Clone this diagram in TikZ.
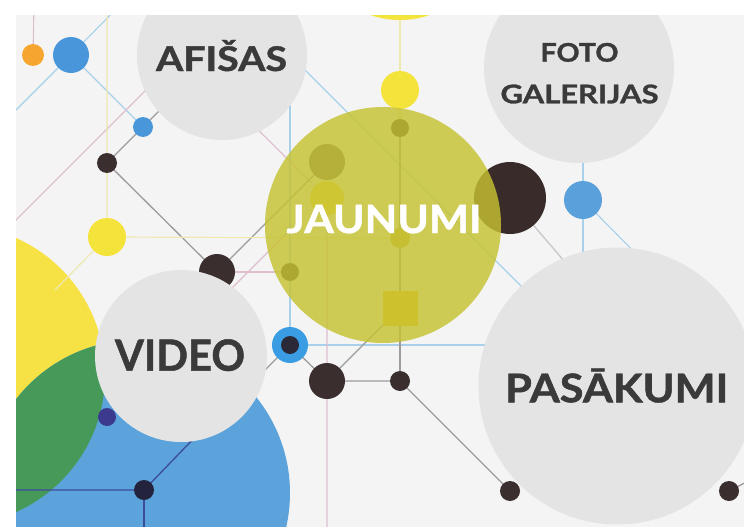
\documentclass[tikz,border=0pt]{standalone}
\usepackage{fontspec}
\setmainfont{Lato}[BoldFeatures={FakeBold=1.2}]
\usepackage{graphicx}
\definecolor{bgc}{HTML}{F4F4F4}
\definecolor{bubc}{HTML}{E4E4E4}
\definecolor{txtc}{HTML}{3A3A3A}
\definecolor{darkc}{HTML}{3B2E2E}
\definecolor{darkbigc}{HTML}{3A2B2B}
\definecolor{orangec}{HTML}{F7A531}
\definecolor{bluedot}{HTML}{4A96DA}
\definecolor{bluedotb}{HTML}{5AA0DA}
\definecolor{ringc}{HTML}{3A9CE3}
\definecolor{ringin}{HTML}{2B2838}
\definecolor{yeldot}{HTML}{F4E33B}
\definecolor{mustard}{HTML}{C9B52E}
\definecolor{sqc}{HTML}{F0C21A}
\definecolor{navyA}{HTML}{3B3A8E}
\definecolor{navyB}{HTML}{23233D}
\definecolor{olivec}{HTML}{C6C232}
\definecolor{yelblob}{HTML}{F6E245}
\definecolor{blueblob}{HTML}{5BA3DA}
\definecolor{greenblob}{HTML}{47995A}
\definecolor{lbline}{HTML}{A8D0EA}
\definecolor{pkline}{HTML}{DDBFCF}
\definecolor{gyline}{HTML}{9C9C9C}
\definecolor{ylline}{HTML}{EFE9B0}
\definecolor{nvline}{HTML}{3C4B9C}
\newcommand{\fitw}[3]{\resizebox{#1}{\height}{\fontsize{#2}{#2}\selectfont\bfseries #3}}
\pgfdeclarelayer{base}
\pgfdeclarelayer{lines}
\pgfsetlayers{base,lines,main}
\begin{document}
\begin{tikzpicture}[x=1pt,y=-1pt,
  dot/.style={circle,inner sep=0pt,outer sep=0pt,minimum size=#1},
  lbl/.style={draw=lbline,line width=1.1pt},
  pkl/.style={draw=pkline,line width=1.1pt},
  gyl/.style={draw=gyline,line width=1.3pt},
  yll/.style={draw=ylline,line width=1.2pt},
  nvl/.style={draw=nvline,line width=1.3pt},
  bubble/.style={circle,fill=bubc,inner sep=0pt,outer sep=0pt,minimum size=#1},
  lab/.style={anchor=base,inner sep=0pt,text=txtc}]
\useasboundingbox (0,0) rectangle (744,527);
\begin{pgfonlayer}{base}
\fill[white] (0,0) rectangle (744,527);
\begin{scope}
\clip (16,15) rectangle (744,527);
\fill[bgc] (16,15) rectangle (744,527);
\node[dot=300pt,fill=yelblob] (yblob) at (-45,375) {};
\node[dot=306pt,fill=blueblob] (bblob) at (137,493) {};
\begin{scope}
\clip (-45,375) circle[radius=150pt];
\fill[greenblob] (137,493) circle[radius=153pt];
\end{scope}
\end{scope}
\end{pgfonlayer}
\begin{scope}
\clip (16,15) rectangle (744,527);
\node[dot=22pt,fill=orangec] (orange) at (33,55) {};
\node[dot=36pt,fill=bluedot] (blueA) at (71,55) {};
\node[dot=20pt,fill=bluedot] (blueS) at (143,127) {};
\node[dot=20pt,fill=darkc] (darkA) at (107,163) {};
\node[dot=38pt,fill=yeldot] (yelA) at (107,237) {};
\node[dot=36pt,fill=darkc] (darkB) at (217,272) {};
\node[dot=18pt,fill=darkc] (darkS) at (290,272) {};
\node[dot=36pt,fill=ringc] (ring) at (290,345) {};
\node[dot=18pt,fill=ringin] (ringin) at (290,345) {};
\node[dot=36pt,fill=darkc] (darkC) at (327,381) {};
\node[dot=20pt,fill=darkc] (darkD) at (400,381) {};
\node[dot=20pt,fill=darkc] (darkE) at (510,491) {};
\node[dot=20pt,fill=darkc] (darkF) at (729,491) {};
\node[dot=38pt,fill=bluedotb] (blueF) at (583,200) {};
\node[dot=180pt,fill=yeldot] (yelTop) at (400,-70) {};
\node[dot=38pt,fill=yeldot] (yelB) at (400,90) {};
\node[dot=36pt,fill=darkc!75!white] (jdot1) at (327,162) {};
\node[dot=34pt,fill=yeldot] (jdot2) at (327,198) {};
\node[dot=18pt,fill=darkc] (jdot3) at (400,128) {};
\node[dot=20pt,fill=mustard] (jdot4) at (400,238) {};
\node[minimum size=35pt,inner sep=0pt,fill=sqc] (sq) at (400,308) {};
\node[dot=18pt,fill=navyA] (navy1) at (107,417) {};
\node[dot=20pt,fill=navyB] (navy2) at (144,490) {};
\node[dot=72pt,fill=darkbigc] (darkbig) at (510,198) {};
\node[circle,fill=olivec,fill opacity=0.82,inner sep=0pt,minimum size=236pt] (jaunumi) at (383,225) {};
\node[lab,text=white] (jaunumi-t) at (384,233) {\fitw{195pt}{39pt}{JAUNUMI}};
\node[bubble=170pt] (afisas) at (222,55) {};
\node[lab] (afisas-t) at (221.5,71) {\fitw{131pt}{34pt}{AFIŠAS}};
\node[bubble=190pt] (foto) at (579,68) {};
\node[lab] (foto-t1) at (579.5,61.7) {\fitw{78pt}{25.7pt}{FOTO}};
\node[lab] (foto-t2) at (579.5,103.3) {\fitw{158pt}{25.7pt}{GALERIJAS}};
\node[bubble=172pt] (video) at (181,356) {};
\node[lab] (video-t) at (180,370.7) {\fitw{130pt}{43pt}{VIDEO}};
\node[bubble=277pt] (pasakumi) at (617,386) {};
\node[lab] (pasakumi-t) at (616.7,402.3) {\fitw{223pt}{39.5pt}{PASĀKUMI}};
\end{scope}
\begin{pgfonlayer}{lines}
\begin{scope}
\clip (16,15) rectangle (744,527);
\coordinate (e1) at (120,5);
\coordinate (e2) at (6,120);
\coordinate (e3) at (270,35);
\coordinate (e4) at (560,325);
\coordinate (e5) at (290,100);
\coordinate (e6) at (500,345);
\coordinate (e7) at (583,140);
\coordinate (e8) at (583,260);
\coordinate (e9) at (650,268);
\coordinate (p1) at (34,5);
\coordinate (p2) at (6,230);
\coordinate (p3) at (165,71);
\coordinate (p4) at (240,112);
\coordinate (p5) at (327,535);
\coordinate (p6) at (200,320);
\coordinate (p7) at (290,230);
\coordinate (g1) at (175,95);
\coordinate (g2) at (250,385);
\coordinate (g3) at (760,475);
\coordinate (g4) at (565,262);
\coordinate (y1) at (107,5);
\coordinate (y2) at (55,290);
\coordinate (n1) at (6,490);
\coordinate (n2) at (200,432);
\coordinate (n3) at (144,535);
% light blue
\draw[lbl] (e1) -- (blueA.center) -- (e2);
\draw[lbl] (blueA.center) -- (blueS.center);
\draw[lbl] (e3) -- (e4);
\draw[lbl] (e5) -- (ring.center) -- (e6);
\draw[lbl] (e7) -- (blueF.center) -- (e8);
\draw[lbl] (blueF.center) -- (e9);
% pink
\draw[pkl] (p1) -- (orange.center);
\draw[pkl] (p2) -- (p3);
\draw[pkl] (p4) -- (jdot2.center) -- (p5);
\draw[pkl] (darkB.center) -- (darkS.center);
\draw[pkl] (p6) -- (p7);
% grey
\draw[gyl] (g1) -- (blueS.center) -- (darkA.center) -- (darkB.center) -- (jdot1.center);
\draw[gyl] (g2) -- (ring.center) -- (darkC.center) -- (darkD.center) -- (darkE.center);
\draw[gyl] (darkC.center) -- (sq.center);
\draw[gyl] (jdot3.center) -- (darkD.center);
\draw[gyl] (darkF.center) -- (g3);
\draw[gyl,draw opacity=0.5] (darkbig.center) -- (g4);
% yellow
\draw[yll] (yelTop.center) -- (yelB.center) -- (jdot3.center);
\draw[yll] (y1) -- (darkA.center) -- (yelA.center) -- (jdot4.center);
\draw[yll] (yelA.center) -- (y2);
% navy
\draw[nvl] (n1) -- (navy2.center) -- (n2);
\draw[nvl] (navy2.center) -- (n3);
\end{scope}
\end{pgfonlayer}
% white margins of the picture
\fill[white] (0,0) rectangle (744,15);
\fill[white] (0,0) rectangle (16,527);
\end{tikzpicture}
\end{document}
